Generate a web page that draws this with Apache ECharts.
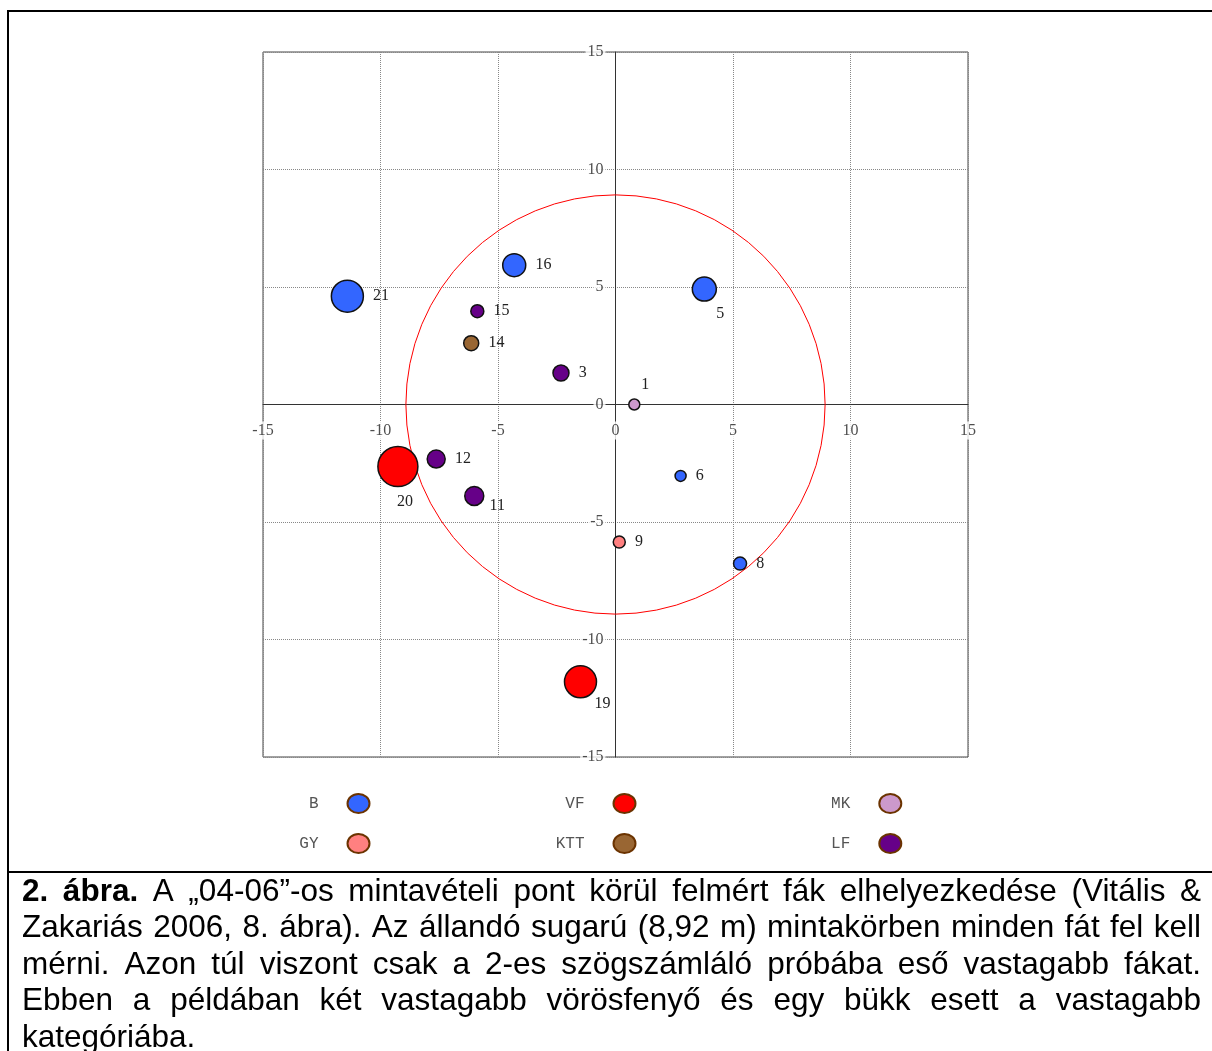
<!DOCTYPE html>
<html><head><meta charset="utf-8">
<script src="https://cdn.jsdelivr.net/npm/echarts@6/dist/echarts.min.js"></script>
<style>html,body{margin:0;padding:0;background:#fff}#c{width:1212px;height:1051px}</style>
</head><body><div id="c"></div>
<script>
// ---- data ----
const speciesNames = ['B', 'VF', 'MK', 'GY', 'KTT', 'LF'];
const treeIds      = [1, 3, 5, 6, 8, 9, 11, 12, 14, 15, 16, 19, 20, 21];
const treeX        = [0.8, -2.32, 3.78, 2.77, 5.30, 0.16, -6.01, -7.63, -6.14, -5.88, -4.31, -1.49, -9.26, -11.41];
const treeY        = [0.0, 1.34, 4.91, -3.04, -6.77, -5.85, -3.89, -2.32, 2.61, 3.97, 5.93, -11.80, -2.64, 4.61];
const treeSize     = [11, 16, 24, 11, 13, 12, 19, 18, 15, 13, 23, 32, 40, 32];
const treeSpecies  = ['MK', 'LF', 'B', 'B', 'B', 'GY', 'LF', 'LF', 'KTT', 'LF', 'B', 'VF', 'VF', 'B'];
const plotRadius   = 8.92;
const axisMin = -15, axisMax = 15, axisStep = 5;
const tickValues   = [-15, -10, -5, 0, 5, 10, 15];
const captionLines = [
  '2. ábra. A „04-06”-os mintavételi pont körül felmért fák elhelyezkedése (Vitális &',
  'Zakariás 2006, 8. ábra). Az állandó sugarú (8,92 m) mintakörben minden fát fel kell',
  'mérni. Azon túl viszont csak a 2-es szögszámláló próbába eső vastagabb fákat.',
  'Ebben a példában két vastagabb vörösfenyő és egy bükk esett a vastagabb',
  'kategóriába.'
];

// ---- styles ----
const speciesColors = {B:'#3366ff', VF:'#ff0000', MK:'#cc99cc', GY:'#ff8080', KTT:'#996633', LF:'#660088'};
const labelOffsets = {1:[11,-20], 5:[16,25], 11:[23,10], 19:[22,22], 20:[7,35]};
const legendPos = {B:[841.5,793], GY:[841.5,833], VF:[575.5,793], KTT:[575.5,833], MK:[309.7,793], LF:[309.7,833]};
const serif = '"Liberation Serif", "Times New Roman", serif';

const chart = echarts.init(document.getElementById('c'), null, {renderer:'canvas'});

const scatterSeries = speciesNames.map(sp => ({
  type: 'scatter', name: sp, z: 3,
  symbol: 'circle',
  symbolSize: v => v[2],
  itemStyle: {color: speciesColors[sp], borderColor: '#111', borderWidth: 1.5, opacity: 1},
  emphasis: {disabled: true},
  label: {show: true, position: 'right', distance: 9, formatter: p => String(p.value[3]),
          fontFamily: serif, fontSize: 16, color: '#222'},
  data: treeIds.map((id, i) => ({id, i})).filter(o => treeSpecies[o.i] === sp).map(o => {
    const item = {value: [treeX[o.i], treeY[o.i], treeSize[o.i], o.id]};
    if (labelOffsets[o.id]) item.label = {position: 'inside', offset: labelOffsets[o.id]};
    return item;
  })
}));

const circleSeries = {
  type: 'custom', coordinateSystem: 'cartesian2d',
  silent: true, z: 2, clip: false,
  data: [[0, 0, plotRadius]],
  renderItem: (params, api) => {
    const c = api.coord([api.value(0), api.value(1)]);
    const r = api.size([api.value(2), 0])[0];
    return {type: 'circle', shape: {cx: c[0], cy: c[1], r: r},
            style: {fill: 'none', stroke: '#ff0000', lineWidth: 1}};
  }
};

// tick labels sitting on the crossing axes (placed through the scales)
const tickLabelStyle = {show: true, fontFamily: serif, fontSize: 16, color: '#222', backgroundColor: '#fff',
                        formatter: p => String(p.value[2])};
const xTickSeries = {
  type: 'scatter', name: 'xticks', z: 6, silent: true, symbolSize: 0, clip: false,
  emphasis: {disabled: true},
  label: Object.assign({position: 'inside', offset: [0, 26], padding: [1, 1]}, tickLabelStyle),
  data: tickValues.map(v => [v, 0, v])
};
const yTickSeries = {
  type: 'scatter', name: 'yticks', z: 6, silent: true, symbolSize: 0, clip: false,
  emphasis: {disabled: true},
  label: Object.assign({position: 'left', distance: 10, padding: [0, 2]}, tickLabelStyle),
  data: tickValues.map(v => [0, v, v])
};

const legends = speciesNames.map(sp => ({
  data: [sp], orient: 'horizontal', align: 'right',
  right: legendPos[sp][0], top: legendPos[sp][1], padding: 0,
  itemWidth: 22, itemHeight: 19, selectedMode: false,
  icon: 'path://M0,9.5A11,9.5,0,1,1,22,9.5A11,9.5,0,1,1,0,9.5Z',
  itemStyle: {borderColor: '#6b3300', borderWidth: 2},
  textStyle: {fontFamily: '"Liberation Mono", "Courier New", monospace', fontSize: 16, color: '#555', padding: [0, 24, 0, 0]}
}));

// caption layout (justified)
const ctx = document.createElement('canvas').getContext('2d');
const capFont = 31.5, capFamily = '"Liberation Sans", Arial, sans-serif';
const capLeft = 22, capRight = 1201, capY0 = 892, capStep = 36.6;
const capEls = [];
captionLines.forEach((line, li) => {
  const words = line.split(' ');
  const bolds = words.map((w, wi) => li === 0 && wi < 2);
  const widths = words.map((w, wi) => {
    ctx.font = (bolds[wi] ? 'bold ' : 'normal ') + capFont + 'px ' + capFamily;
    return ctx.measureText(w).width;
  });
  const total = widths.reduce((a, b) => a + b, 0);
  ctx.font = 'normal ' + capFont + 'px ' + capFamily;
  const sp = ctx.measureText(' ').width;
  const last = li === captionLines.length - 1;
  const gap = last || words.length < 2 ? sp : (capRight - capLeft - total) / (words.length - 1);
  let x = capLeft;
  words.forEach((w, wi) => {
    capEls.push({type: 'text', x: x, y: capY0 + li * capStep, silent: true, z: 10,
      style: {text: w, fontSize: capFont, fontFamily: capFamily, fontWeight: bolds[wi] ? 'bold' : 'normal',
              fill: '#000', align: 'left', verticalAlign: 'middle'}});
    x += widths[wi] + gap;
  });
});

const frameEls = [
  {type: 'line', silent: true, z: 10, shape: {x1: 7, y1: 11, x2: 1212, y2: 11}, style: {stroke: '#000', lineWidth: 2}},
  {type: 'line', silent: true, z: 10, shape: {x1: 8, y1: 10, x2: 8, y2: 1051}, style: {stroke: '#000', lineWidth: 2}},
  {type: 'line', silent: true, z: 10, shape: {x1: 8, y1: 872, x2: 1212, y2: 872}, style: {stroke: '#000', lineWidth: 2}}
];

chart.setOption({
  animation: false,
  backgroundColor: '#fff',
  grid: {left: 263, right: 244, top: 52, bottom: 294, show: true, borderColor: '#444', borderWidth: 1,
         backgroundColor: 'transparent', containLabel: false},
  xAxis: {type: 'value', min: axisMin, max: axisMax, interval: axisStep, z: 0,
     axisLine: {show: true, onZero: true, lineStyle: {color: '#333', width: 1}},
     axisTick: {show: false}, axisLabel: {show: false},
     splitLine: {show: true, lineStyle: {color: '#888', type: 'dotted', width: 1}}},
  yAxis: {type: 'value', min: axisMin, max: axisMax, interval: axisStep, z: 0,
     axisLine: {show: true, onZero: true, lineStyle: {color: '#333', width: 1}},
     axisTick: {show: false}, axisLabel: {show: false},
     splitLine: {show: true, lineStyle: {color: '#888', type: 'dotted', width: 1}}},
  legend: legends,
  series: [circleSeries].concat(scatterSeries, [xTickSeries, yTickSeries]),
  graphic: {elements: frameEls.concat(capEls)}
});
</script>
</body></html>
